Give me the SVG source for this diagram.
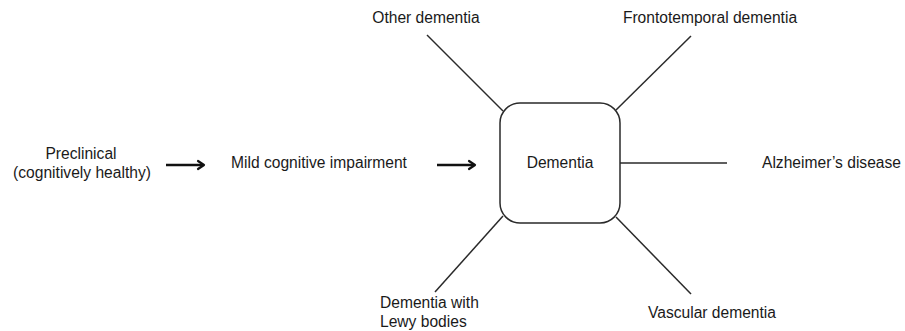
<svg xmlns="http://www.w3.org/2000/svg" width="905" height="331" viewBox="0 0 905 331">
<style>
text{font-family:"Liberation Sans",Arial,sans-serif;font-size:15.6px;fill:#1a1a1a}
.ln{stroke:#2a2a2a;stroke-width:1.5;fill:none}
.ar{stroke:#111;stroke-width:2.6;fill:none}
.hd{stroke:#111;stroke-width:2.2;fill:none;stroke-linecap:round;stroke-linejoin:round}
</style>
<rect width="905" height="331" fill="#fff"/>
<g id="preclinical"><text x="81" y="159" text-anchor="middle">Preclinical</text><text x="82" y="178" text-anchor="middle">(cognitively healthy)</text></g>
<g id="mci"><text x="319" y="168" text-anchor="middle">Mild cognitive impairment</text></g>
<g id="dementia"><rect x="500" y="103" width="120" height="120" rx="20" ry="20" fill="#fff" stroke="#2a2a2a" stroke-width="1.5"/><text x="560" y="168" text-anchor="middle">Dementia</text></g>
<g id="other"><text x="426" y="23" text-anchor="middle">Other dementia</text></g>
<g id="ftd"><text x="710" y="23" text-anchor="middle">Frontotemporal dementia</text></g>
<g id="ad"><text x="762" y="168">Alzheimer’s disease</text></g>
<g id="dlb"><text x="380" y="308">Dementia with</text><text x="380" y="327">Lewy bodies</text></g>
<g id="vd"><text x="712" y="318" text-anchor="middle">Vascular dementia</text></g>
<g id="connectors">
<line class="ar" x1="166" y1="165" x2="203" y2="165"/><polyline class="hd" points="198,161 204,165 198,169"/>
<line class="ar" x1="437" y1="165" x2="474" y2="165"/><polyline class="hd" points="469,161 475,165 469,169"/>
<line class="ln" x1="427" y1="35" x2="503" y2="111"/>
<line class="ln" x1="691" y1="36" x2="616" y2="110"/>
<line class="ln" x1="620" y1="163" x2="727" y2="163"/>
<line class="ln" x1="503" y1="216" x2="435" y2="292"/>
<line class="ln" x1="616" y1="217" x2="691" y2="294"/>
</g>
</svg>
